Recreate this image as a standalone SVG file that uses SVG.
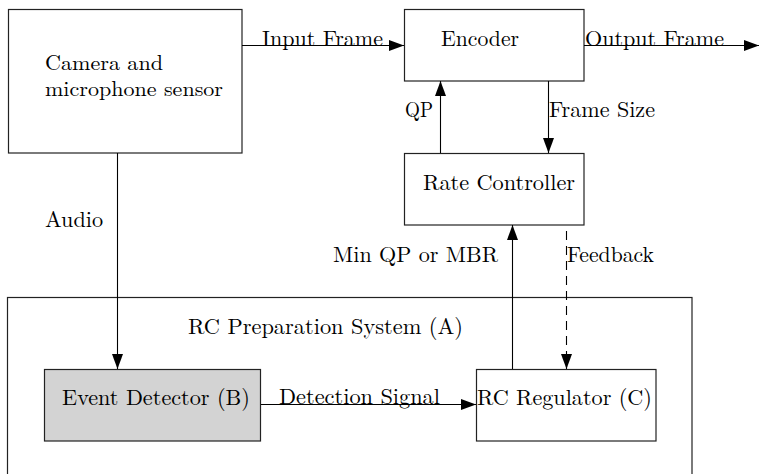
<svg xmlns="http://www.w3.org/2000/svg" width="759" height="474" viewBox="0 0 759 474">
  <defs>
    <marker id="arrow" viewBox="0 0 15 11" refX="15" refY="5.5" markerWidth="15" markerHeight="11" markerUnits="userSpaceOnUse" orient="auto">
      <path d="M0,0 L15,5.5 L0,11 Z" fill="#000"/>
    </marker>
  </defs>
  <style>
    .box { fill: #fff; stroke: #222; stroke-width: 1.2; }
    .shaded { fill: #d3d3d3; }
    .frame { fill: none; stroke: #222; stroke-width: 1.2; }
    .link { fill: none; stroke: #000; stroke-width: 1.1; marker-end: url(#arrow); }
    .dashed { stroke-dasharray: 9 6; }
    text { font-family: "Latin Modern Roman", "CMU Serif", "Liberation Serif", "DejaVu Serif", "Noto Serif", Georgia, "Times New Roman", Times, serif; font-size: 22px; fill: #000; }
    .tight { font-size: 21px; }
  </style>
  <rect width="759" height="474" fill="#fff"/>

  <!-- RC preparation system (A): container -->
  <g id="rc-preparation-system">
    <rect class="frame" x="7.5" y="297.5" width="684.5" height="190"/>
    <text x="188" y="334" textLength="275" lengthAdjust="spacingAndGlyphs">RC Preparation System (A)</text>
  </g>

  <g id="camera-sensor">
    <rect class="box" x="8.5" y="9.5" width="233.5" height="143.5"/>
    <text class="tight" x="45" y="70" textLength="118" lengthAdjust="spacingAndGlyphs">Camera and</text>
    <text class="tight" x="45" y="96" textLength="178" lengthAdjust="spacingAndGlyphs">microphone sensor</text>
  </g>

  <g id="encoder">
    <rect class="box" x="404.5" y="9.5" width="179.5" height="71.5"/>
    <text x="441" y="46" textLength="78" lengthAdjust="spacingAndGlyphs">Encoder</text>
  </g>

  <g id="rate-controller">
    <rect class="box" x="404.5" y="153.5" width="179.5" height="71.5"/>
    <text x="423" y="190" textLength="152" lengthAdjust="spacingAndGlyphs">Rate Controller</text>
  </g>

  <g id="event-detector">
    <rect class="box shaded" x="44.5" y="369.5" width="216" height="71.5"/>
    <text x="62" y="405" textLength="188" lengthAdjust="spacingAndGlyphs">Event Detector (B)</text>
  </g>

  <g id="rc-regulator">
    <rect class="box" x="476.5" y="369.5" width="179.5" height="71.5"/>
    <text x="477" y="405" textLength="175" lengthAdjust="spacingAndGlyphs">RC Regulator (C)</text>
  </g>

  <g id="connectors">
    <line class="link" x1="242" y1="45.5" x2="404" y2="45.5"/>
    <line class="link" x1="584" y1="45.5" x2="759" y2="45.5"/>
    <line class="link" x1="440.5" y1="153" x2="440.5" y2="81"/>
    <line class="link" x1="548.5" y1="81" x2="548.5" y2="153"/>
    <line class="link" x1="117.5" y1="153" x2="117.5" y2="369"/>
    <line class="link" x1="512.5" y1="369" x2="512.5" y2="225"/>
    <line class="link dashed" x1="566.5" y1="231" x2="566.5" y2="369"/>
    <line class="link" x1="261" y1="404.5" x2="476" y2="404.5"/>
  </g>

  <!-- connector labels -->
  <g id="labels">
    <text x="262" y="46" textLength="121" lengthAdjust="spacingAndGlyphs">Input Frame</text>
    <text x="585" y="46" textLength="139" lengthAdjust="spacingAndGlyphs">Output Frame</text>
    <text x="405" y="117" textLength="28" lengthAdjust="spacingAndGlyphs">QP</text>
    <text x="549" y="117" textLength="106" lengthAdjust="spacingAndGlyphs">Frame Size</text>
    <text x="45" y="226.5" textLength="58" lengthAdjust="spacingAndGlyphs">Audio</text>
    <text x="333" y="262" textLength="165" lengthAdjust="spacingAndGlyphs">Min QP or MBR</text>
    <text x="567" y="262" textLength="87" lengthAdjust="spacingAndGlyphs">Feedback</text>
    <text x="279" y="404" textLength="161" lengthAdjust="spacingAndGlyphs">Detection Signal</text>
  </g>
</svg>
